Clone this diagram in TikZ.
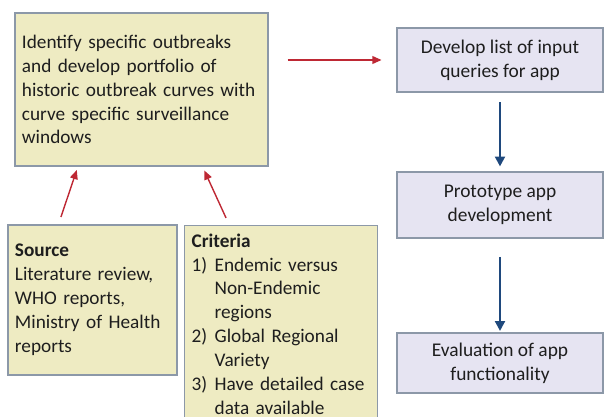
\documentclass[tikz,border=0pt]{standalone}
\usepackage{fontspec}
\setmainfont{Carlito}
\usetikzlibrary{arrows.meta,calc}
\definecolor{boxyellow}{RGB}{238,235,194}
\definecolor{boxlilac}{RGB}{230,228,242}
\definecolor{boxedge}{RGB}{140,152,168}
\definecolor{arrred}{RGB}{190,40,52}
\definecolor{arrblue}{RGB}{31,73,125}
\definecolor{txtgray}{RGB}{30,30,30}
\newcommand{\itemno}[1]{\makebox[0.575cm][l]{#1}}
\newcommand{\itemgap}{\hspace*{0.575cm}}
\tikzset{
  yellowbox/.style={draw=boxedge, fill=boxyellow, line width=0.9pt, inner xsep=0.175cm,
    align=left, text=txtgray, font=\fontsize{13.7}{17}\selectfont},
  lilacbox/.style={draw=boxedge, fill=boxlilac, line width=0.9pt, minimum width=5.15cm,
    align=center, text=txtgray, font=\fontsize{13.8}{17}\selectfont},
  redarrow/.style={draw=arrred, line width=1pt, -{Triangle[length=6.5pt,width=5.5pt]}},
  bluearrow/.style={draw=arrblue, line width=1.6pt, -{Triangle[length=7pt,width=7pt]}}
}
\begin{document}
\begin{tikzpicture}[x=0.025cm, y=-0.025cm]
            \useasboundingbox (0,0) rectangle (607,416);
            \clip (0,0) rectangle (607,416);
            % left column
            \node[yellowbox, text width=5.975cm, minimum height=3.825cm] (outbreaks) at (141.5,89.5)
                {Identify specific outbreaks\\and develop portfolio of\\historic outbreak curves with\\curve specific surveillance\\windows};
            \node[yellowbox, text width=3.875cm, minimum height=3.75cm] (source) at (92.5,300)
                {\textbf{Source}\\Literature review,\\WHO reports,\\Ministry of Health\\reports};
            \node[yellowbox, text width=4.475cm, anchor=north west, inner ysep=0.2cm] (criteria) at (184,225)
                {\textbf{Criteria}\\
                 \itemno{1)}Endemic versus\\
                 \itemgap Non-Endemic\\
                 \itemgap regions\\
                 \itemno{2)}Global Regional\\
                 \itemgap Variety\\
                 \itemno{3)}Have detailed case\\
                 \itemgap data available};
            % right column
            \node[lilacbox, minimum height=1.6cm] (inputs) at (500,60) {Develop list of input\\queries for app};
            \node[lilacbox, minimum height=1.65cm] (prototype) at (500,205) {Prototype app\\development};
            \node[lilacbox, minimum height=1.5cm] (evaluation) at (500,363) {Evaluation of app\\functionality};
            % connectors
            \draw[redarrow, shorten <=5.5pt, shorten >=2.5pt]
                ($(source.north west)!0.3!(source.north east)$) -- ($(outbreaks.south west)!0.25!(outbreaks.south east)$);
            \draw[redarrow, shorten <=5.5pt, shorten >=3pt]
                ($(criteria.north west)!0.233!(criteria.north east)$) -- ($(outbreaks.south west)!0.74!(outbreaks.south east)$);
            \draw[redarrow, shorten <=13.5pt, shorten >=10.5pt] (outbreaks.east |- inputs.west) -- (inputs.west);
            \draw[bluearrow, shorten <=7pt, shorten >=3.5pt] (inputs.south) -- (prototype.north);
            \draw[bluearrow, shorten <=13pt, shorten >=1pt] (prototype.south) -- (evaluation.north);
\end{tikzpicture}
\end{document}
